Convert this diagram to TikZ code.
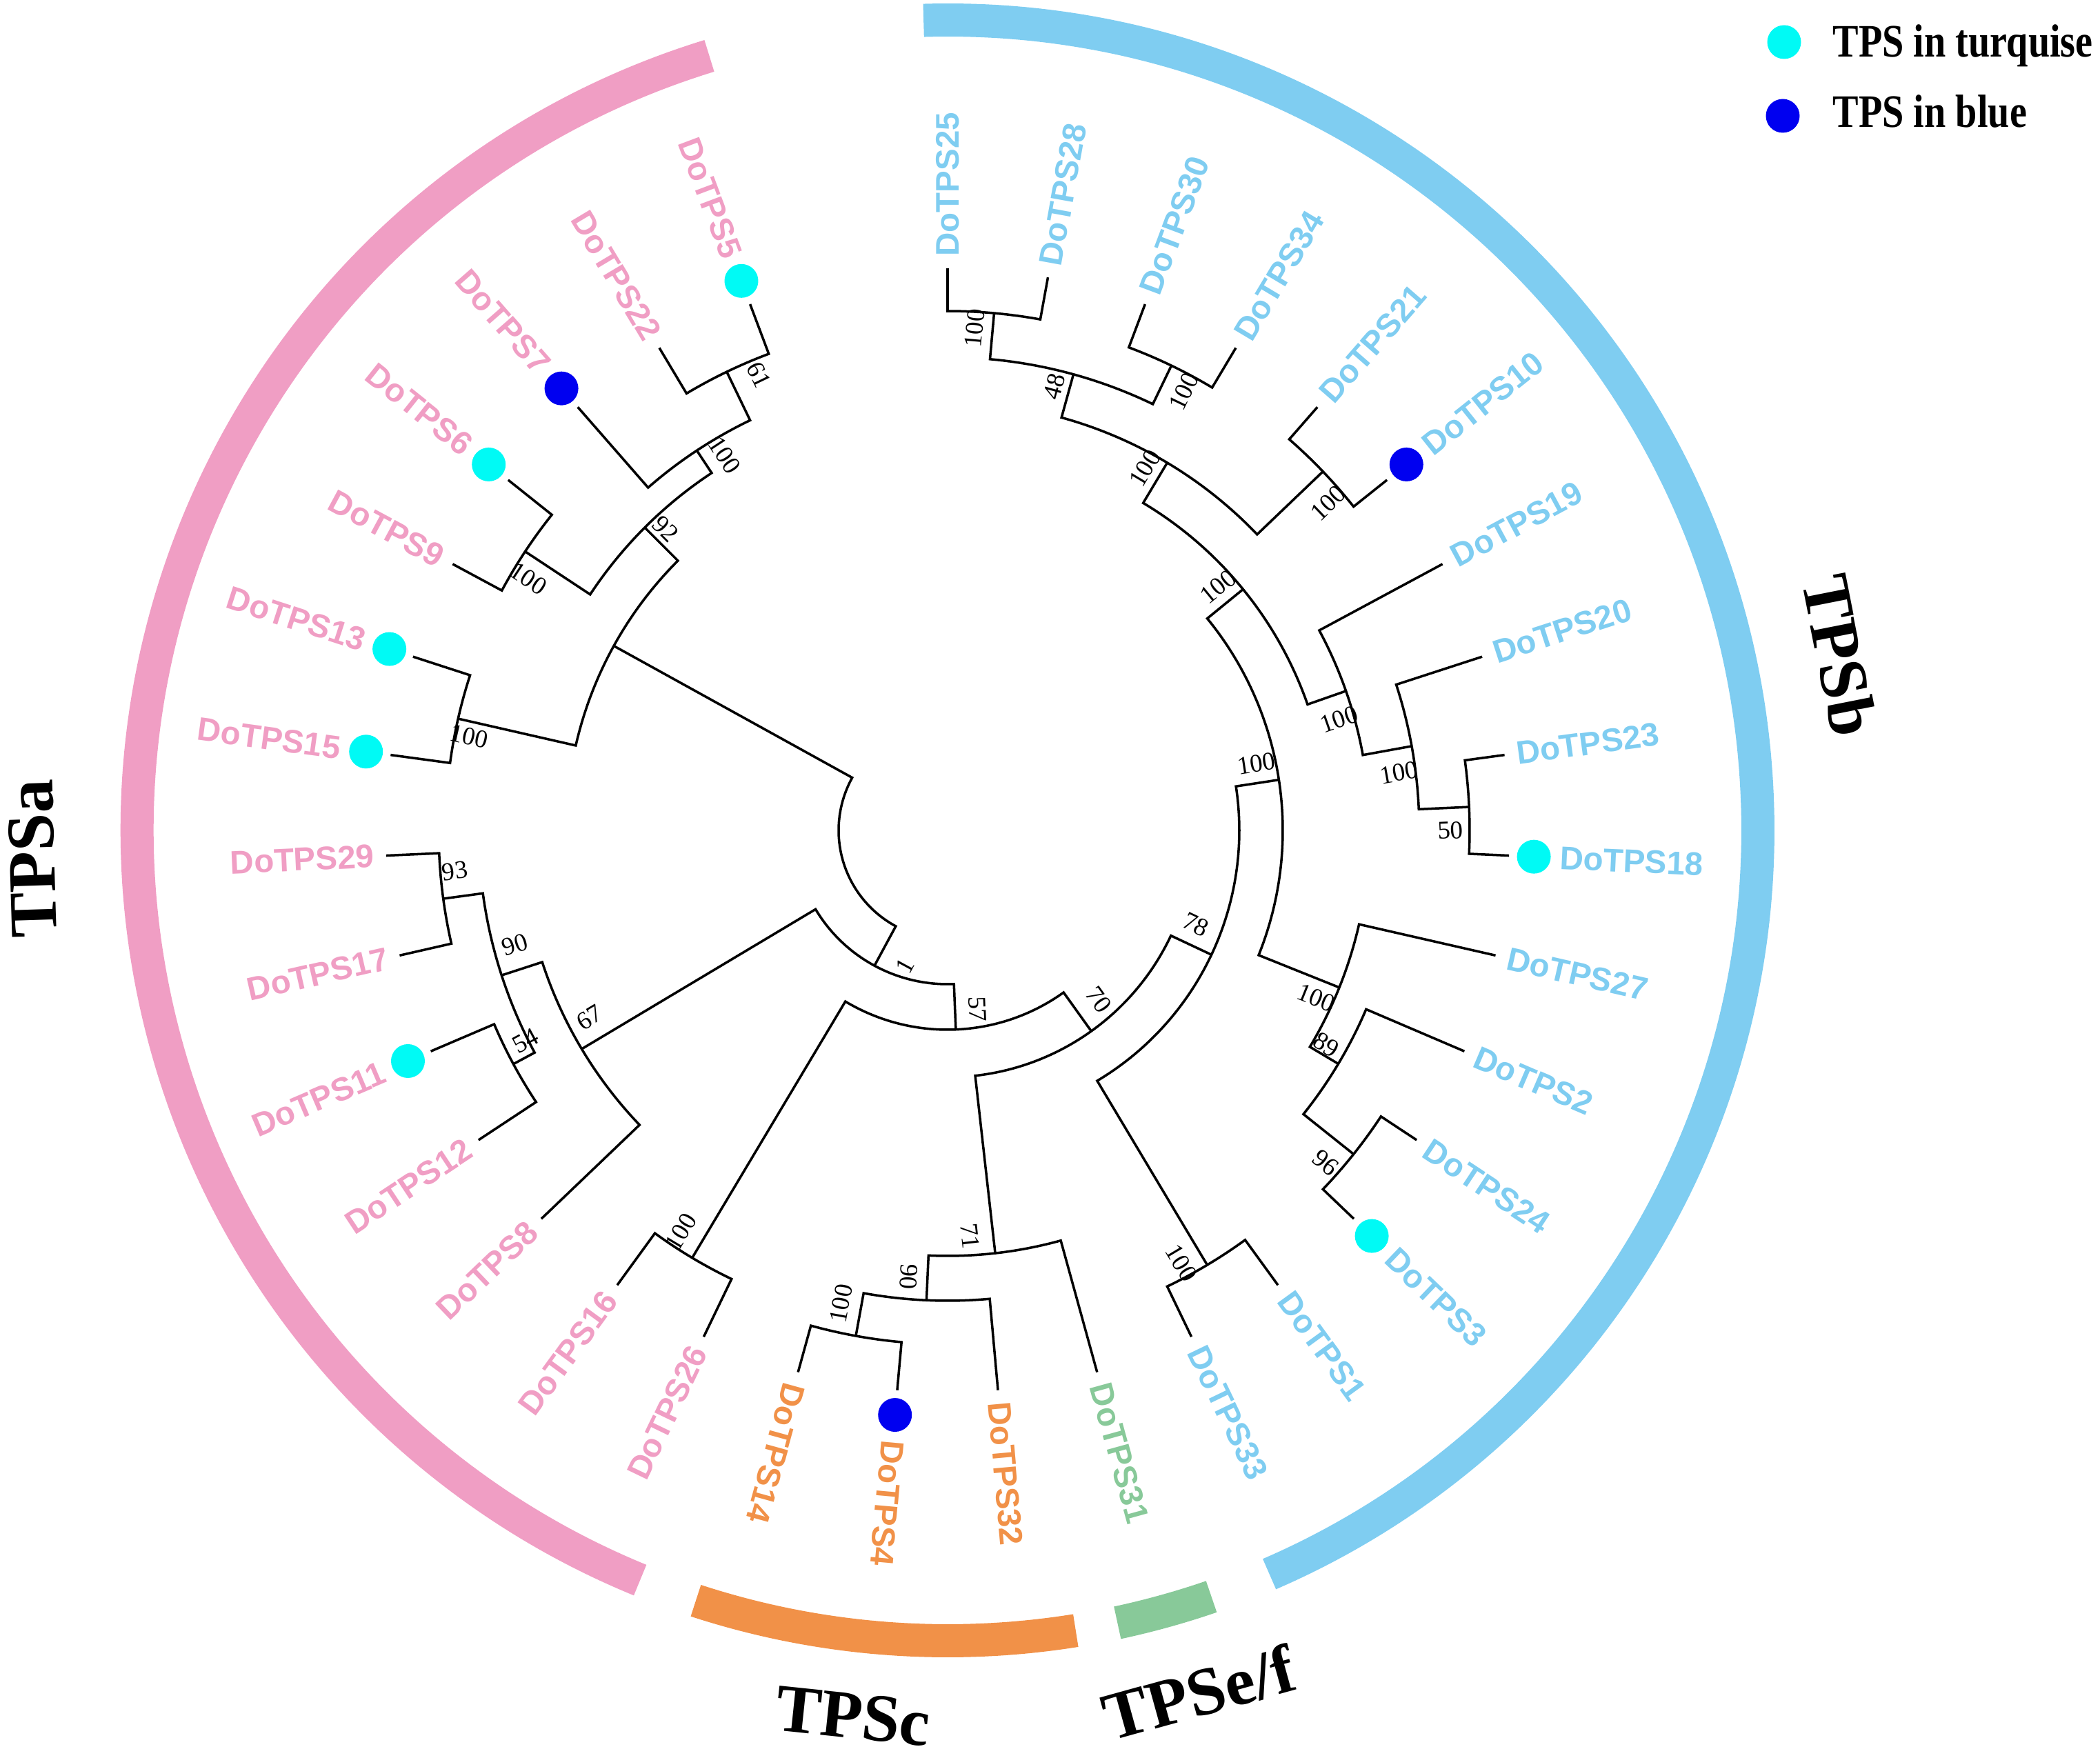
\documentclass[tikz,border=0pt]{standalone}
\usepackage{fontspec}
\usepackage{graphicx}
\setmainfont{Liberation Serif}
\newfontfamily\leaffam{Liberation Sans}
\definecolor{cb}{RGB}{127,205,241}
\definecolor{cp}{RGB}{240,158,196}
\definecolor{co}{RGB}{241,145,72}
\definecolor{cg}{RGB}{136,201,153}
\definecolor{dotone}{RGB}{0,250,245}
\definecolor{dottwo}{RGB}{0,0,240}
\newcommand\leaffont{\leaffam\bfseries\fontsize{13.5}{16}\selectfont}
\newcommand\bsfont{\rmfamily\fontsize{10.5}{12}\selectfont}
\newcommand\cladefont{\rmfamily\bfseries\fontsize{28}{32}\selectfont}
\newcommand\tclade[5]{\draw[br] (#4) -- (#2:#1) arc[start angle=#2, end angle=#3, radius=#1] -- (#5);}
\begin{document}
\begin{tikzpicture}
\useasboundingbox (-13.74,-13.44) rectangle (16.71,12.04);
\tikzset{
  br/.style={line width=1pt, black, line join=miter},
  lf/.style={font=\leaffont, inner sep=0pt},
  bs/.style={font=\bsfont, inner sep=0pt},
  band/.style={line width=0.48cm},
  cl/.style={font=\cladefont, inner sep=0pt},
  lg/.style={font=\rmfamily\bfseries\fontsize{16}{19}\selectfont, inner sep=0pt, anchor=base west}
}
% clade bands
\draw[band, cp] (107.1:11.75) arc[start angle=107.1, end angle=247.7, radius=11.75];
\draw[band, cb] (91.7:11.75) arc[start angle=91.7, end angle=-66.6, radius=11.75];
\draw[band, co] (-108.1:11.75) arc[start angle=-108.1, end angle=-80.9, radius=11.75];
\draw[band, cg] (-77.9:11.75) arc[start angle=-77.9, end angle=-71.0, radius=11.75];
% clade names
\node[cl, rotate=91.8] (tpsa) at (-13.27,-0.41) {TPSa};
\node[cl, rotate=-78.8] (tpsb) at (12.94,2.54) {TPSb};
\node[cl, rotate=-6] (tpsc) at (-1.37,-12.84) {TPSc};
\node[cl, rotate=15.5] (tpsef) at (3.64,-12.5) {TPSe/f};
% legend
\fill[dotone] (12.13,11.43) circle (0.245);
\fill[dottwo] (12.11,10.36) circle (0.245);
\node[lg] (lg1) at (12.83,11.21) {\scalebox{1}[1.2]{TPS in turquise}};
\node[lg] (lg2) at (12.83,10.19) {\scalebox{1}[1.2]{TPS in blue}};
% leaves
\foreach \a/\nm/\c/\d in {90/25/cb/0, 79.714/28/cb/0, 69.429/30/cb/0, 59.143/34/cb/0,
  48.857/21/cb/0, 38.571/10/cb/2, 28.286/19/cb/0, 18/20/cb/0, 7.714/23/cb/0,
  -2.571/18/cb/1, -12.857/27/cb/0, -23.143/2/cb/0, -33.429/24/cb/0, -43.714/3/cb/1,
  -54/1/cb/0, -64.286/33/cb/0, -74.571/31/cg/0, -84.857/32/co/0, -95.143/4/co/2,
  -105.429/14/co/0, -115.714/26/cp/0, -126/16/cp/0, -136.286/8/cp/0, -146.571/12/cp/0,
  -156.857/11/cp/1, -167.143/17/cp/0, -177.429/29/cp/0, -187.714/15/cp/1,
  -198/13/cp/1, -208.286/9/cp/0, -218.571/6/cp/1, -228.857/7/cp/2,
  -239.143/22/cp/0, -249.429/5/cp/1} {
  \coordinate (L\nm) at (\a:8.15);
  \ifnum\d=1 \fill[dotone] (\a:8.51) circle (0.245); \fi
  \ifnum\d=2 \fill[dottwo] (\a:8.51) circle (0.245); \fi
  \pgfmathsetmacro\rr{\d>0 ? 8.88 : 8.32}
  \pgfmathtruncatemacro\flip{\a<-110 ? 1 : 0}
  \ifnum\flip=1
    \node[lf, text=\c, rotate=\a+180, anchor=east] (T\nm) at (\a:\rr) {DoTPS\nm};
  \else
    \node[lf, text=\c, rotate=\a, anchor=west] (T\nm) at (\a:\rr) {DoTPS\nm};
  \fi
}
% internal nodes
\coordinate (A) at (-208.929:5.53);
\coordinate (n1) at (-118.387:2.23);
\coordinate (n67) at (-149.143:6.18);
\coordinate (a90) at (-162.0:6.80);
\coordinate (n93) at (-172.286:7.38);
\coordinate (n54) at (-151.714:7.15);
\coordinate (n57) at (-87.630:2.89);
\coordinate (n1626) at (-120.857:7.22);
\coordinate (n70) at (-54.402:3.58);
\coordinate (n71) at (-83.571:6.17);
\coordinate (c90) at (-92.571:6.82);
\coordinate (n144) at (-100.286:7.45);
\coordinate (n78) at (-25.232:4.23);
\coordinate (n133) at (-59.143:7.34);
\coordinate (X) at (8.679:4.86);
\coordinate (U) at (39.214:5.53);
\coordinate (n05) at (59.143:6.21);
\coordinate (n48) at (74.571:6.86);
\coordinate (n2528) at (84.857:7.53);
\coordinate (n3034) at (64.286:7.48);
\coordinate (n2110) at (43.714:7.53);
\coordinate (n69b) at (19.286:6.12);
\coordinate (n2018) at (10.286:6.84);
\coordinate (n50) at (2.571:7.57);
\coordinate (L) at (-21.857:6.12);
\coordinate (n89) at (-30.857:6.60);
\coordinate (n96) at (-38.571:7.53);
\coordinate (n92) at (-225.0:6.21);
\coordinate (n5227) at (-236.571:6.60);
\coordinate (n522) at (-244.286:7.38);
\coordinate (n69) at (-213.429:7.34);
\coordinate (n1315) at (-192.857:7.28);
% branches
\tclade{1.58}{-208.929}{-118.387}{A}{n1}
\tclade{5.53}{-225.0}{-192.857}{n92}{n1315}
\tclade{6.21}{-236.571}{-213.429}{n5227}{n69}
\tclade{6.60}{-244.286}{-228.857}{n522}{L7}
\tclade{7.38}{-249.429}{-239.143}{L5}{L22}
\tclade{7.34}{-218.571}{-208.286}{L6}{L9}
\tclade{7.28}{-198}{-187.714}{L13}{L15}
\tclade{2.23}{-149.143}{-87.630}{n67}{n57}
\tclade{6.18}{-162}{-136.286}{a90}{L8}
\tclade{6.80}{-172.286}{-151.714}{n93}{n54}
\tclade{7.38}{-177.429}{-167.143}{L29}{L17}
\tclade{7.15}{-156.857}{-146.571}{L11}{L12}
\tclade{2.89}{-120.857}{-54.402}{n1626}{n70}
\tclade{7.22}{-126}{-115.714}{L16}{L26}
\tclade{3.58}{-83.571}{-25.232}{n71}{n78}
\tclade{6.17}{-92.571}{-74.571}{c90}{L31}
\tclade{6.82}{-100.286}{-84.857}{n144}{L32}
\tclade{7.45}{-105.429}{-95.143}{L14}{L4}
\tclade{4.23}{-59.143}{8.679}{n133}{X}
\tclade{7.34}{-64.286}{-54}{L33}{L1}
\tclade{4.86}{-21.857}{39.214}{L}{U}
\tclade{6.12}{-30.857}{-12.857}{n89}{L27}
\tclade{6.60}{-38.571}{-23.143}{n96}{L2}
\tclade{7.53}{-43.714}{-33.429}{L3}{L24}
\tclade{5.53}{19.286}{59.143}{n69b}{n05}
\tclade{6.12}{10.286}{28.286}{n2018}{L19}
\tclade{6.84}{2.571}{18}{n50}{L20}
\tclade{7.57}{-2.571}{7.714}{L18}{L23}
\tclade{6.21}{43.714}{74.571}{n2110}{n48}
\tclade{7.53}{38.571}{48.857}{L10}{L21}
\tclade{6.86}{64.286}{84.857}{n3034}{n2528}
\tclade{7.48}{59.143}{69.429}{L34}{L30}
\tclade{7.53}{79.714}{90}{L28}{L25}
% bootstrap values
\foreach \a/\r/\t/\rot [count=\i] in {-247.5/7.15/61/-64.3, -239.3/6.33/100/-56.6,
  -226.9/5.98/92/-45, -211/7.09/100/-33.4, -191.1/7.07/100/-12.9, -175.3/7.17/93/7.7,
  -165.2/6.49/90/18, -153.5/6.84/54/28.3, -152.4/5.86/67/30.9, -107.6/2.06/1/61.6,
  -80.6/2.63/57/-87.6, -48.3/3.29/70/-54.4, -123.6/6.99/100/59.1, -86.8/5.89/71/-83.6,
  -95.0/6.50/90/-92.6, -102.7/7.03/100/79.7, -20.7/3.85/78/-25.2, -61.6/7.13/100/-59.1,
  -41.3/7.30/96/-38.6, -29.5/6.31/89/-30.9, -24.4/5.87/100/-21.9, 12.2/4.58/100/8.7,
  0/7.29/50/2.6, 7.3/6.60/100/10.3, 15.8/5.90/100/19.3, 42.0/5.28/100/39.2,
  61.4/5.98/100/59.1, 40.7/7.28/100/43.7, 76.5/6.62/48/74.6, 86.9/7.29/100/84.9,
  61.7/7.23/100/64.3} {
  \node[bs, rotate=\rot] (b\i) at (\a:\r) {\t};
}
\end{tikzpicture}
\end{document}
